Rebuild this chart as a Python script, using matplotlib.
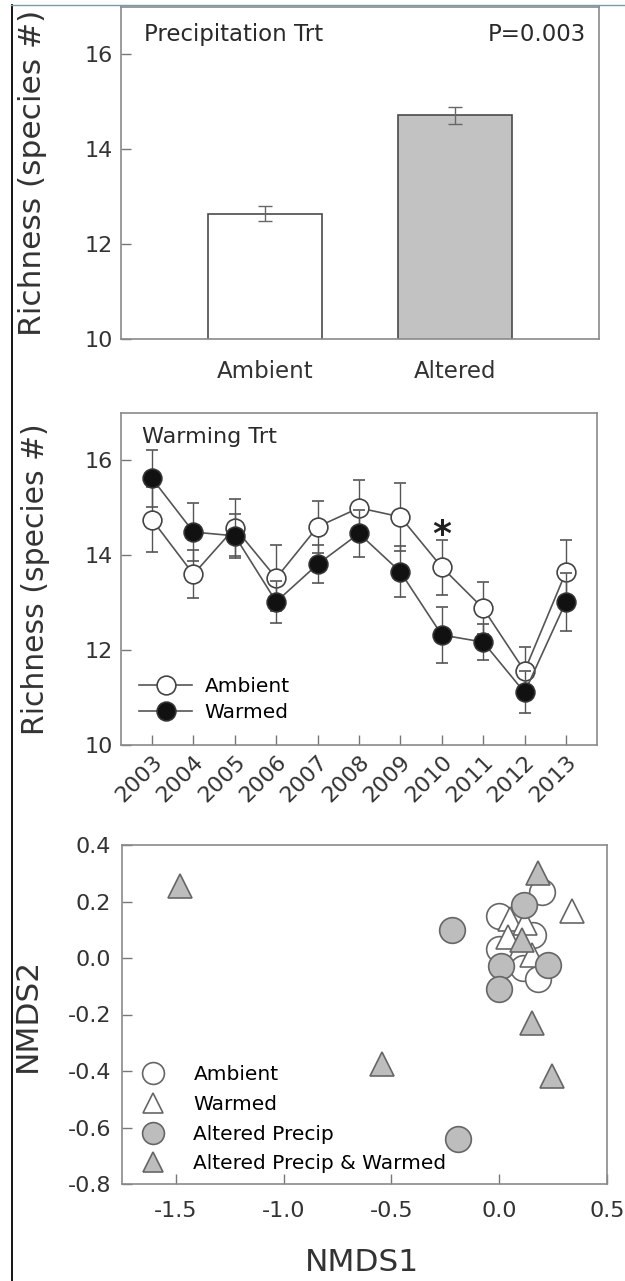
import numpy as np
import matplotlib.pyplot as plt
from matplotlib.lines import Line2D

plt.rcParams['font.family'] = ['DejaVu Sans']
plt.rcParams['axes.unicode_minus'] = False

# top panel: precipitation treatment
precip_trt = ['Ambient', 'Altered']
precip_mean = [12.64, 14.72]
precip_se = [0.16, 0.18]
precip_fill = ['white', '#c2c2c2']

# middle panel: warming treatment through the years
years = list(range(2003, 2014))
amb_mean = [14.75, 13.60, 14.58, 13.52, 14.60, 15.00, 14.81, 13.75, 12.88, 11.56, 13.65]
amb_se = [0.68, 0.51, 0.60, 0.70, 0.55, 0.58, 0.72, 0.58, 0.55, 0.50, 0.68]
warm_mean = [15.62, 14.49, 14.41, 13.02, 13.81, 14.46, 13.65, 12.32, 12.17, 11.11, 13.02]
warm_se = [0.60, 0.62, 0.47, 0.44, 0.40, 0.50, 0.54, 0.60, 0.38, 0.44, 0.61]
star_year = 2010

# bottom panel: NMDS ordination
amb_x = [0.00, 0.20, 0.157, 0.00, 0.111, 0.18]
amb_y = [0.15, 0.235, 0.08, 0.033, -0.035, -0.076]
warm_x = [0.337, 0.05, 0.042, 0.12, 0.15]
warm_y = [0.168, 0.139, 0.074, 0.125, 0.01]
ap_x = [-0.217, 0.114, 0.006, -0.001, 0.224, -0.189]
ap_y = [0.098, 0.189, -0.030, -0.11, -0.025, -0.642]
apw_x = [-1.479, 0.18, 0.105, 0.154, -0.543, 0.245]
apw_y = [0.256, 0.30, 0.065, -0.229, -0.375, -0.419]

spine_col = '#8a8a8a'
gray_fill = '#bdbdbd'
txt_col = '#2a2a2a'

fig = plt.figure(figsize=(6.25, 12.81), dpi=100)
ax1 = fig.add_axes([121 / 625, 1 - 339 / 1281, 478 / 625, 332 / 1281])
ax2 = fig.add_axes([121 / 625, 1 - 745 / 1281, 476 / 625, 332 / 1281])
ax3 = fig.add_axes([122 / 625, 1 - 1184 / 1281, 485 / 625, 339 / 1281])

for ax in (ax1, ax2, ax3):
    for s in ax.spines.values():
        s.set_color(spine_col)
        s.set_linewidth(1.2)
    ax.tick_params(direction='in', length=7, width=1, color='#777777',
                   labelcolor='#333333')

# --- top: bars
xpos = np.arange(1, len(precip_trt) + 1)
ax1.bar(xpos, precip_mean, width=0.6, bottom=0, color=precip_fill,
        edgecolor='#4a4a4a', linewidth=1.2, zorder=2)
ax1.errorbar(xpos, precip_mean, yerr=precip_se, fmt='none', ecolor='#666666',
             elinewidth=1, capsize=5, capthick=1, zorder=3)
ax1.set_xlim(0.245, 2.755)
ax1.set_ylim(10, 17)
ax1.set_yticks([10, 12, 14, 16])
ax1.set_xticks(xpos)
ax1.set_xticklabels(precip_trt)
ax1.tick_params(axis='x', length=0, pad=15, labelsize=16.5)
ax1.tick_params(axis='y', labelsize=16, pad=6)
ax1.set_ylabel('Richness (species #)', fontsize=22.5, color='#333333')
ax1.yaxis.set_label_coords(-0.155, 0.5)
ax1.text(0.048, 0.916, 'Precipitation Trt', transform=ax1.transAxes,
         fontsize=16.5, color=txt_col, va='center', ha='left')
ax1.text(0.973, 0.916, 'P=0.003', transform=ax1.transAxes,
         fontsize=16.5, color=txt_col, va='center', ha='right')

# --- middle: lines with error bars
ax2.errorbar(years, amb_mean, yerr=amb_se, color='#555555', lw=1.2,
             ecolor='#555555', elinewidth=1, capsize=4.5, capthick=1,
             marker='o', ms=13.5, mfc='white', mec='#444444', mew=1.2,
             label='Ambient', zorder=3)
ax2.errorbar(years, warm_mean, yerr=warm_se, color='#555555', lw=1.2,
             ecolor='#555555', elinewidth=1, capsize=4.5, capthick=1,
             marker='o', ms=13.5, mfc='#111111', mec='#333333', mew=1.2,
             label='Warmed', zorder=4)
i_star = years.index(star_year)
ax2.text(star_year, amb_mean[i_star] + amb_se[i_star] - 0.12, '*',
         ha='center', va='baseline', fontsize=26, fontweight='bold',
         color='#222222')
ax2.set_xlim(2002.25, 2013.75)
ax2.set_ylim(10, 17)
ax2.set_yticks([10, 12, 14, 16])
ax2.set_xticks(years)
ax2.set_xticklabels([str(y) for y in years], rotation=45, ha='right',
                    rotation_mode='anchor')
ax2.tick_params(axis='x', labelsize=16, pad=5)
ax2.tick_params(axis='y', labelsize=16, pad=6)
ax2.set_ylabel('Richness (species #)', fontsize=21.5, color='#333333')
ax2.yaxis.set_label_coords(-0.149, 0.5)
ax2.text(0.044, 0.928, 'Warming Trt', transform=ax2.transAxes,
         fontsize=16, color=txt_col, va='center', ha='left')
h, l = ax2.get_legend_handles_labels()
h = [hh[0] for hh in h]
ax2.legend(h, l, loc='lower left', bbox_to_anchor=(0.038, 0.068), frameon=False,
           fontsize=14.5, handlelength=2.65, handletextpad=0.6,
           labelspacing=0.38, borderaxespad=0, borderpad=0)

# --- bottom: NMDS scatter
ax3.plot(amb_x, amb_y, ls='none', marker='o', ms=18.5, mfc='white',
         mec='#666666', mew=1.2, label='Ambient', zorder=2)
ax3.plot(warm_x, warm_y, ls='none', marker='^', ms=17, mfc='white',
         mec='#666666', mew=1.2, label='Warmed', zorder=3)
ax3.plot(ap_x, ap_y, ls='none', marker='o', ms=18.5, mfc=gray_fill,
         mec='#666666', mew=1.2, label='Altered Precip', zorder=4)
ax3.plot(apw_x, apw_y, ls='none', marker='^', ms=17, mfc=gray_fill,
         mec='#666666', mew=1.2, label='Altered Precip & Warmed', zorder=5)
ax3.set_xlim(-1.75, 0.5)
ax3.set_ylim(-0.8, 0.4)
ax3.set_xticks([-1.5, -1.0, -0.5, 0.0, 0.5])
ax3.set_yticks([-0.8, -0.6, -0.4, -0.2, 0.0, 0.2, 0.4])
ax3.xaxis.set_major_formatter(plt.FormatStrFormatter('%.1f'))
ax3.yaxis.set_major_formatter(plt.FormatStrFormatter('%.1f'))
ax3.tick_params(axis='both', labelsize=16)
ax3.tick_params(axis='x', pad=12)
ax3.tick_params(axis='y', pad=8)
ax3.set_xlabel('NMDS1', fontsize=22.5, color='#333333')
ax3.xaxis.set_label_coords(0.495, -0.189)
ax3.set_ylabel('NMDS2', fontsize=22.5, color='#333333')
ax3.yaxis.set_label_coords(-0.165, 0.5)
ax3.legend(loc='lower left', bbox_to_anchor=(0.031, 0.031), frameon=False,
           fontsize=14.5, handlelength=1.6, handletextpad=1.2,
           labelspacing=0.53, borderaxespad=0, borderpad=0, markerscale=0.85)

# border lines of the original figure
fig.add_artist(Line2D([11.5 / 625, 11.5 / 625], [0, 1 - 5 / 1281],
                      transform=fig.transFigure, color='black', lw=1.3))
fig.add_artist(Line2D([11 / 625, 1], [1 - 5 / 1281, 1 - 5 / 1281],
                      transform=fig.transFigure, color='#7d9aa8', lw=1))

fig.savefig('out.png', dpi=100)
